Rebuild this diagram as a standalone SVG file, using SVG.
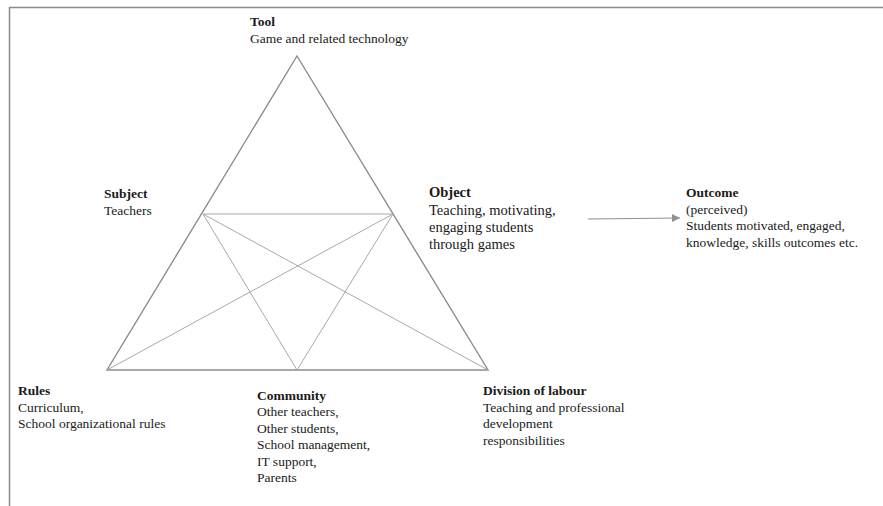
<svg xmlns="http://www.w3.org/2000/svg" width="883" height="506" viewBox="0 0 883 506">
  <defs>
    <style>
      text { font-family: "Liberation Serif", "Times New Roman", serif; font-size: 13.5px; fill: #1a1a1a; }
      .h { font-weight: bold; }
      .frame { stroke: #8a8a8a; stroke-width: 1.5; fill: none; }
      .tri { stroke: #8c8c8c; stroke-width: 1.4; fill: none; }
      .inner { stroke: #a8a8a8; stroke-width: 1; fill: none; }
      .arrow { stroke: #909090; stroke-width: 1; fill: none; }
    </style>
    <marker id="ah" viewBox="0 0 10 10" refX="10" refY="5" markerWidth="8" markerHeight="8" markerUnits="userSpaceOnUse" orient="auto">
      <path d="M0,0 L10,5 L0,10 z" fill="#909090"/>
    </marker>
  </defs>
  <rect width="883" height="506" fill="#ffffff"/>

  <!-- page frame (top and left edges) -->
  <path class="frame" d="M883,7.5 H9.5 V506"/>

  <!-- connectors -->
  <g id="connectors">
    <polygon class="tri" points="297,56 107,370 488,370"/>
    <line class="inner" x1="203" y1="214" x2="393" y2="214"/>
    <line class="inner" x1="203" y1="214" x2="488" y2="370"/>
    <line class="inner" x1="203" y1="214" x2="297" y2="370"/>
    <line class="inner" x1="393" y1="214" x2="107" y2="370"/>
    <line class="inner" x1="393" y1="214" x2="297" y2="370"/>
    <line class="arrow" x1="588" y1="219" x2="680" y2="218" marker-end="url(#ah)"/>
  </g>

  <g id="tool">
    <text x="250" y="26" class="h">Tool</text>
    <text x="250" y="43">Game and related technology</text>
  </g>

  <g id="subject">
    <text x="104" y="198" class="h">Subject</text>
    <text x="104" y="215">Teachers</text>
  </g>

  <g id="object">
    <text x="429" y="197" class="h" style="font-size:14.5px">Object</text>
    <text x="429" y="215" style="font-size:14.5px">Teaching, motivating,</text>
    <text x="429" y="232" style="font-size:14.5px">engaging students</text>
    <text x="429" y="249" style="font-size:14.5px">through games</text>
  </g>

  <g id="outcome">
    <text x="686" y="197" class="h">Outcome</text>
    <text x="686" y="214">(perceived)</text>
    <text x="686" y="230">Students motivated, engaged,</text>
    <text x="686" y="247">knowledge, skills outcomes etc.</text>
  </g>

  <g id="rules">
    <text x="18" y="395" class="h">Rules</text>
    <text x="18" y="412">Curriculum,</text>
    <text x="18" y="428">School organizational rules</text>
  </g>

  <g id="community">
    <text x="257" y="400" class="h">Community</text>
    <text x="257" y="416">Other teachers,</text>
    <text x="257" y="433">Other students,</text>
    <text x="257" y="449">School management,</text>
    <text x="257" y="466">IT support,</text>
    <text x="257" y="482">Parents</text>
  </g>

  <g id="division-of-labour">
    <text x="483" y="395" class="h">Division of labour</text>
    <text x="483" y="412">Teaching and professional</text>
    <text x="483" y="428">development</text>
    <text x="483" y="445">responsibilities</text>
  </g>
</svg>
